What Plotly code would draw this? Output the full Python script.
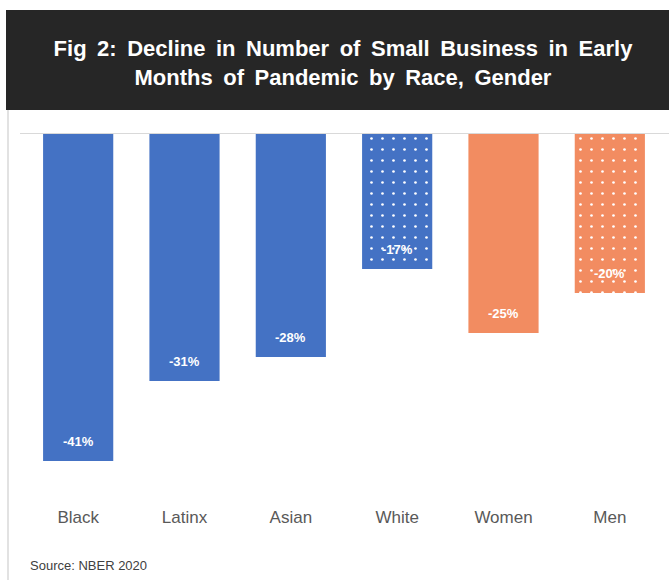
import plotly.graph_objects as go

categories = ["Black", "Latinx", "Asian", "White", "Women", "Men"]
values = [-41, -31, -28, -17, -25, -20]
labels = ["-41%", "-31%", "-28%", "-17%", "-25%", "-20%"]
colors = ["#4472C4", "#4472C4", "#4472C4", "#4472C4", "#F28C61", "#F28C61"]
dotted = [False, False, False, True, False, True]

W, H = 669, 580
ML, MR, MT, MB = 25, 6, 133, 75
pw, ph = W - ML - MR, H - MT - MB
FONT = "Liberation Sans, Arial"


def px(x):
    return (x - ML) / pw


def py(y):
    return 1 - (y - MT) / ph


fig = go.Figure()
fig.add_trace(go.Bar(
    x=categories, y=values, width=0.66,
    marker=dict(color=colors, line=dict(width=0)),
    hoverinfo="skip",
))
dot_x = [c for c, d in zip(categories, dotted) if d]
dot_y = [v for v, d in zip(values, dotted) if d]
fig.add_trace(go.Bar(
    x=dot_x, y=dot_y, width=0.66,
    marker=dict(color="white", line=dict(width=0),
                pattern=dict(shape=".", size=11, solidity=0.045, fillmode="replace")),
    hoverinfo="skip",
))

for c, v, t in zip(categories, values, labels):
    fig.add_annotation(x=c, y=v, text="<b>" + t + "</b>", showarrow=False,
                       yshift=20, font=dict(family=FONT, size=13, color="white"))

shapes = [
    dict(type="rect", xref="paper", yref="paper", x0=px(6), x1=px(672), y0=py(110), y1=py(10),
         fillcolor="#262626", line=dict(width=0), layer="below"),
    dict(type="line", xref="paper", yref="paper", x0=px(8), x1=px(8), y0=py(110), y1=py(582),
         line=dict(color="#D9D9D9", width=1.5)),
    dict(type="line", xref="paper", yref="y", x0=px(20), x1=px(669), y0=0, y1=0,
         line=dict(color="#D9D9D9", width=2)),
]

title_lines = ["Fig 2: Decline in Number of Small Business in Early",
               "Months of Pandemic by Race, Gender"]
title_text = "<br>".join(l.replace(" ", " \u2009") for l in title_lines)

fig.update_layout(
    width=W, height=H, margin=dict(l=ML, r=MR, t=MT, b=MB),
    paper_bgcolor="white", plot_bgcolor="white", showlegend=False,
    barmode="overlay",
    shapes=shapes,
    title=dict(text="<b>" + title_text + "</b>",
               x=343 / W, xref="container", xanchor="center", y=1 - 56 / H, yref="container", yanchor="middle",
               font=dict(family=FONT, size=22, color="white")),
    xaxis=dict(showgrid=False, showline=False, zeroline=False, ticks="",
               tickfont=dict(family=FONT, size=17, color="#595959")),
    yaxis=dict(range=[-46.5, 0], visible=False, showgrid=False, zeroline=False),
)

fig.add_annotation(text="Source: NBER 2020", xref="paper", yref="paper", x=px(28), y=0,
                   xanchor="left", yanchor="middle", yshift=-60, showarrow=False,
                   font=dict(family=FONT, size=13, color="#404040"))

fig.write_html("out.html")
